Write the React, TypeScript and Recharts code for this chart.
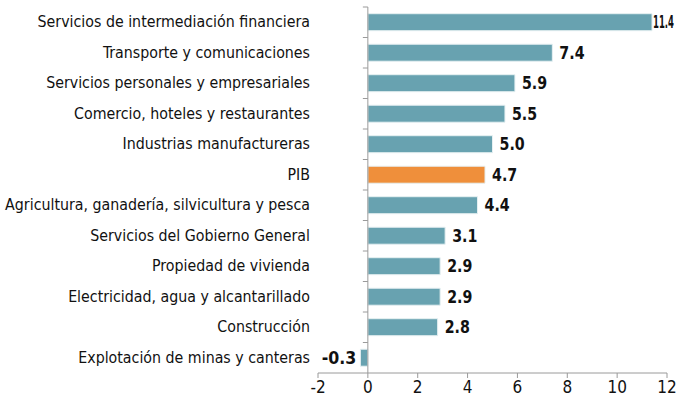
import React from 'react'
import {
  BarChart, Bar, XAxis, YAxis, Cell, LabelList, ReferenceLine,
} from 'recharts'

const sectors = [
  'Servicios de intermediación financiera',
  'Transporte y comunicaciones',
  'Servicios personales y empresariales',
  'Comercio, hoteles y restaurantes',
  'Industrias manufactureras',
  'PIB',
  'Agricultura, ganadería, silvicultura y pesca',
  'Servicios del Gobierno General',
  'Propiedad de vivienda',
  'Electricidad, agua y alcantarillado',
  'Construcción',
  'Explotación de minas y canteras',
]
const growth = [11.4, 7.4, 5.9, 5.5, 5.0, 4.7, 4.4, 3.1, 2.9, 2.9, 2.8, -0.3]
const xTicks = [-2, 0, 2, 4, 6, 8, 10, 12]

const W = 677
const H = 402
const TEAL = '#68a2b0'
const ORANGE = '#ef8f3b'
const AXIS = '#9a9a9a'
const FONT = '"DejaVu Sans Condensed", "DejaVu Sans", sans-serif'

const data = sectors.map((name, i) => ({ name, value: growth[i] }))

function SectorTick({ x, y, payload }: any) {
  return (
    <text x={x} y={y} dy={5} textAnchor="end" fontSize={15.8} fill="#111" fontFamily={FONT}>
      {payload.value}
    </text>
  )
}

function ValueLabel({ x, y, width, height, value }: any) {
  const neg = value < 0
  const txt = value.toFixed(1)
  // rough width of the condensed bold digits, squeezed a little
  const est = txt.length * 9.4 - 3
  const tx = neg ? x + width - 4 - est : x + width + (value > 10 ? 1 : 7)
  const fit = Math.min(est, W - tx - 3)
  return (
    <text x={tx} y={y + height / 2} dy={6} textAnchor="start"
      fontSize={17} fontWeight="bold" fill="#111" fontFamily={FONT}
      textLength={fit} lengthAdjust="spacingAndGlyphs">
      {txt}
    </text>
  )
}

// category axis drawn at zero, with ticks between the categories
function ZeroAxis({ x1, y1, y2 }: any) {
  const top = Math.min(y1, y2)
  const bottom = Math.max(y1, y2)
  const band = (bottom - top) / sectors.length
  return (
    <g>
      <line x1={x1} x2={x1} y1={top} y2={bottom} stroke={AXIS} strokeWidth={1} />
      {sectors.map((_, i) => (
        <line key={i} x1={x1 - 5} x2={x1} y1={top + i * band} y2={top + i * band} stroke={AXIS} />
      ))}
    </g>
  )
}

export default function App() {
  return (
    <div style={{ position: 'absolute', left: 0, top: 0, width: W, height: H, background: '#fff' }}>
      <BarChart
        width={W}
        height={H}
        data={data}
        layout="vertical"
        margin={{ top: 7, right: 10, bottom: 0, left: 0 }}
        barCategoryGap="22%"
      >
        <XAxis
          type="number"
          domain={[-2, 12]}
          ticks={xTicks}
          height={29}
          tick={{ fill: '#111', fontSize: 17, fontFamily: FONT }}
          axisLine={{ stroke: AXIS }}
          tickLine={{ stroke: AXIS }}
          tickSize={5}
          tickMargin={3}
        />
        <YAxis
          type="category"
          dataKey="name"
          width={318}
          axisLine={false}
          tickLine={false}
          tick={<SectorTick />}
          interval={0}
        />
        <Bar dataKey="value" isAnimationActive={false} stroke="#e6f0f2" strokeWidth={1}>
          {data.map((d) => (
            <Cell key={d.name} fill={d.name === 'PIB' ? ORANGE : TEAL} />
          ))}
          <LabelList dataKey="value" content={<ValueLabel />} />
        </Bar>
        <ReferenceLine x={0} shape={<ZeroAxis />} />
      </BarChart>
    </div>
  )
}
